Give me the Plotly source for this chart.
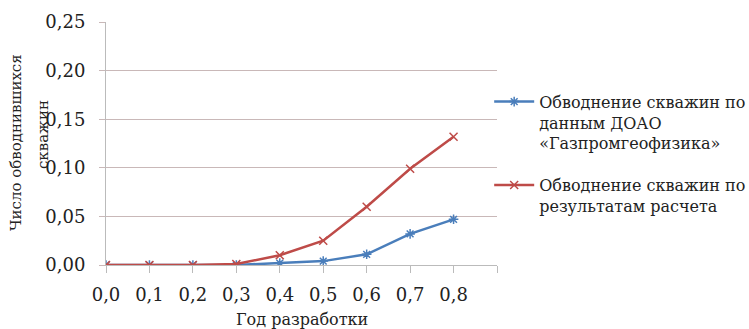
import plotly.graph_objects as go

years = [0.0, 0.1, 0.2, 0.3, 0.4, 0.5, 0.6, 0.7, 0.8]
tick_labels = ["0,0", "0,1", "0,2", "0,3", "0,4", "0,5", "0,6", "0,7", "0,8"]
blue_vals = [0.0, 0.0, 0.0, 0.0, 0.002, 0.004, 0.011, 0.032, 0.047]
red_vals = [0.0, 0.0, 0.0, 0.001, 0.010, 0.025, 0.060, 0.099, 0.132]
y_ticks = [0, 0.05, 0.10, 0.15, 0.20, 0.25]
y_labels = ["0,00", "0,05", "0,10", "0,15", "0,20", "0,25"]

FONT = "DejaVu Serif"
fig = go.Figure()
fig.add_trace(go.Scatter(
    x=years, y=blue_vals, mode="lines+markers", legendgroup="a",
    name="Обводнение скважин по<br>данным ДОАО<br>«Газпромгеофизика»",
    line=dict(color="#4a7ebb", width=2.5),
    marker=dict(symbol="asterisk-open", size=8, color="#4a7ebb", line=dict(width=1.5, color="#4a7ebb")),
))
fig.add_trace(go.Scatter(
    x=years, y=red_vals, mode="lines+markers", legendgroup="b",
    name="Обводнение скважин по<br>результатам расчета",
    line=dict(color="#be4b48", width=2.5),
    marker=dict(symbol="x-thin-open", size=8, color="#be4b48", line=dict(width=1.5, color="#be4b48")),
))
fig.update_layout(
    width=749, height=329,
    margin=dict(l=106, r=252, t=22, b=64, autoexpand=False),
    paper_bgcolor="white", plot_bgcolor="white",
    font=dict(family=FONT, size=16, color="#222"),
    showlegend=True,
    legend=dict(x=0.980, y=0.742, xanchor="left", yanchor="top",
                font=dict(family=FONT, size=16, color="#222"),
                valign="top", tracegroupgap=18, itemwidth=40,
                bgcolor="rgba(0,0,0,0)"),
    xaxis=dict(range=[0, 0.9], tickvals=years + [0.9], ticktext=tick_labels + [""],
               showgrid=False, ticks="outside", ticklen=7, tickcolor="#bbbbbb",
               showline=True, linecolor="#bbbbbb", linewidth=1, zeroline=False,
               automargin=False, ticklabelstandoff=6,
               tickfont=dict(family=FONT, size=18)),
    yaxis=dict(range=[0, 0.25], tickvals=y_ticks, ticktext=y_labels,
               showgrid=True, gridcolor="#c9b8b8", gridwidth=1.2,
               ticks="outside", ticklen=6, tickcolor="#c9b8b8",
               showline=True, linecolor="#bbbbbb", zeroline=False,
               automargin=False, ticklabelstandoff=10,
               tickfont=dict(family=FONT, size=18)),
    annotations=[
        dict(text="Число обводнившихся", textangle=-90,
             xref="paper", yref="paper", x=-0.230, y=0.502, xanchor="center", yanchor="middle",
             showarrow=False, font=dict(family=FONT, size=15, color="#222")),
        dict(text="скважин", textangle=-90,
             xref="paper", yref="paper", x=-0.161, y=0.535, xanchor="center", yanchor="middle",
             showarrow=False, font=dict(family=FONT, size=15, color="#222")),
        dict(text="Год разработки", xref="paper", yref="paper", x=0.5, y=-0.226,
             xanchor="center", yanchor="middle", showarrow=False,
             font=dict(family=FONT, size=16, color="#222")),
    ],
)
fig.write_html("out.html", config={"displayModeBar": False},
               post_script="document.body.style.margin='0';document.body.style.overflow='hidden';")
